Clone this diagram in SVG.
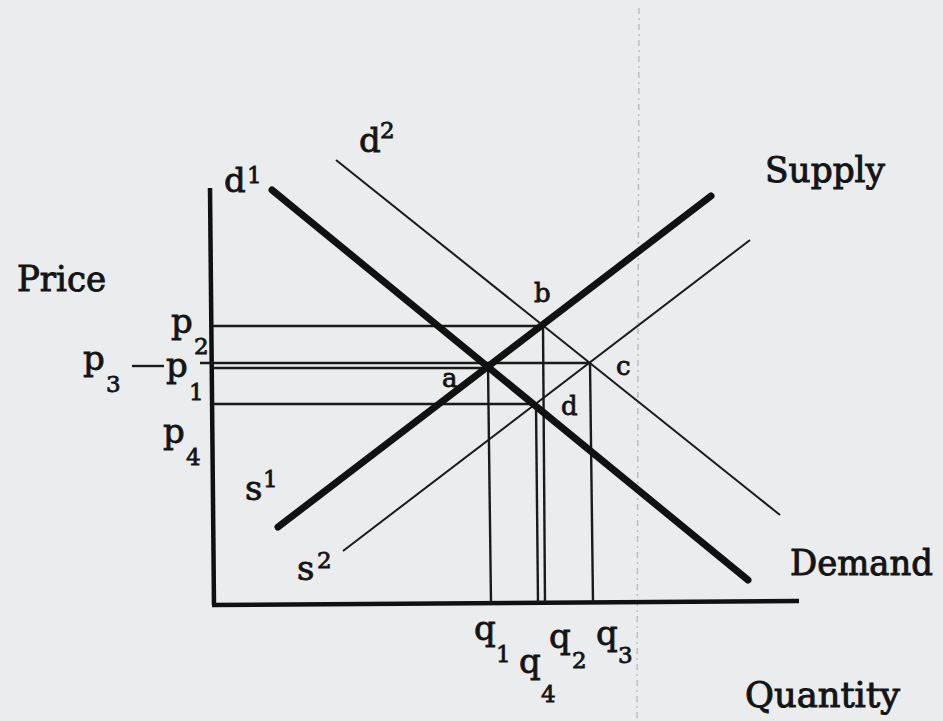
<svg xmlns="http://www.w3.org/2000/svg" width="943" height="721" viewBox="0 0 943 721">
<style>
.t{font-family:"DejaVu Serif","Liberation Serif",serif;fill:#141414;stroke:#141414;stroke-width:0.8}
.big{font-size:36px;stroke-width:1}
.let{font-size:34px}
.sub{font-size:23px}
.sm{font-size:26px}
.thick{stroke:#111;stroke-width:7;stroke-linecap:round;fill:none}
.thin{stroke:#1a1a1a;stroke-width:2;fill:none}
.guide{stroke:#1a1a1a;stroke-width:2.4;fill:none}
.axis{stroke:#111;stroke-width:4.5;fill:none}
</style>
<rect width="943" height="721" fill="#eaeced"/>
<line x1="639" y1="8" x2="637" y2="721" stroke="#9a9c9e" stroke-width="1.4" stroke-dasharray="6 4 2 4" opacity="0.6"/>

<g id="axes">
<line class="axis" x1="210" y1="188" x2="214" y2="605"/>
<line class="axis" x1="212" y1="605" x2="799" y2="601"/>
</g>

<g id="connectors">
<g id="guides">
<line class="guide" x1="213" y1="326" x2="543" y2="326"/>
<line class="guide" x1="200" y1="363" x2="590" y2="363"/>
<line class="guide" x1="213" y1="368" x2="488" y2="368"/>
<line class="guide" x1="213" y1="404" x2="536" y2="404"/>
<line class="guide" x1="488" y1="366" x2="491" y2="603"/>
<line class="guide" x1="536" y1="404" x2="538" y2="603"/>
<line class="guide" x1="543" y1="325" x2="545" y2="603"/>
<line class="guide" x1="590" y1="363" x2="593" y2="602"/>
<line class="guide" x1="132" y1="366" x2="164" y2="366"/>
</g>
<g id="d2-curve"><line class="thin" x1="336" y1="160" x2="780" y2="515"/></g>
<g id="s2-curve"><line class="thin" x1="343" y1="551" x2="750" y2="240"/></g>
<g id="d1-curve"><line class="thick" x1="272" y1="190" x2="748" y2="580"/></g>
<g id="s1-curve"><line class="thick" x1="278" y1="527" x2="711" y2="196"/></g>
</g>

<g id="axis-labels">
<text class="t big" x="17" y="291" textLength="89" lengthAdjust="spacingAndGlyphs">Price</text>
<text class="t big" x="765" y="182" textLength="120" lengthAdjust="spacingAndGlyphs">Supply</text>
<text class="t big" x="790" y="575" textLength="143" lengthAdjust="spacingAndGlyphs">Demand</text>
<text class="t big" x="745" y="707" textLength="155" lengthAdjust="spacingAndGlyphs">Quantity</text>
</g>

<g id="price-labels">
<g id="p2"><text class="t let" x="171" y="333">p</text><text class="t sub" x="194" y="354">2</text></g>
<g id="p3"><text class="t let" x="83" y="370">p</text><text class="t sub" x="106" y="392">3</text></g>
<g id="p1"><text class="t let" x="166" y="377">p</text><text class="t sub" x="189" y="400">1</text></g>
<g id="p4"><text class="t let" x="163" y="443">p</text><text class="t sub" x="186" y="465">4</text></g>
</g>

<g id="quantity-labels">
<g id="q1"><text class="t let" x="474" y="640">q</text><text class="t sub" x="496" y="662">1</text></g>
<g id="q4"><text class="t let" x="519" y="673">q</text><text class="t sub" x="541" y="702">4</text></g>
<g id="q2"><text class="t let" x="549" y="648">q</text><text class="t sub" x="572" y="668">2</text></g>
<g id="q3"><text class="t let" x="596" y="645">q</text><text class="t sub" x="618" y="663">3</text></g>
</g>

<g id="curve-labels">
<g id="d1"><text class="t let" x="224" y="192">d</text><text class="t sub" x="247" y="183">1</text></g>
<g id="d2"><text class="t let" x="359" y="152">d</text><text class="t sub" x="380" y="138">2</text></g>
<g id="s1"><text class="t let" x="245" y="500">s</text><text class="t sub" x="263" y="487">1</text></g>
<g id="s2"><text class="t let" x="297" y="580">s</text><text class="t sub" x="317" y="568">2</text></g>
</g>

<g id="points">
<text id="a" class="t sm" x="442" y="387">a</text>
<text id="b" class="t sm" x="534" y="302">b</text>
<text id="c" class="t sm" x="616" y="375">c</text>
<text id="d" class="t sm" x="561" y="415">d</text>
</g>
</svg>
